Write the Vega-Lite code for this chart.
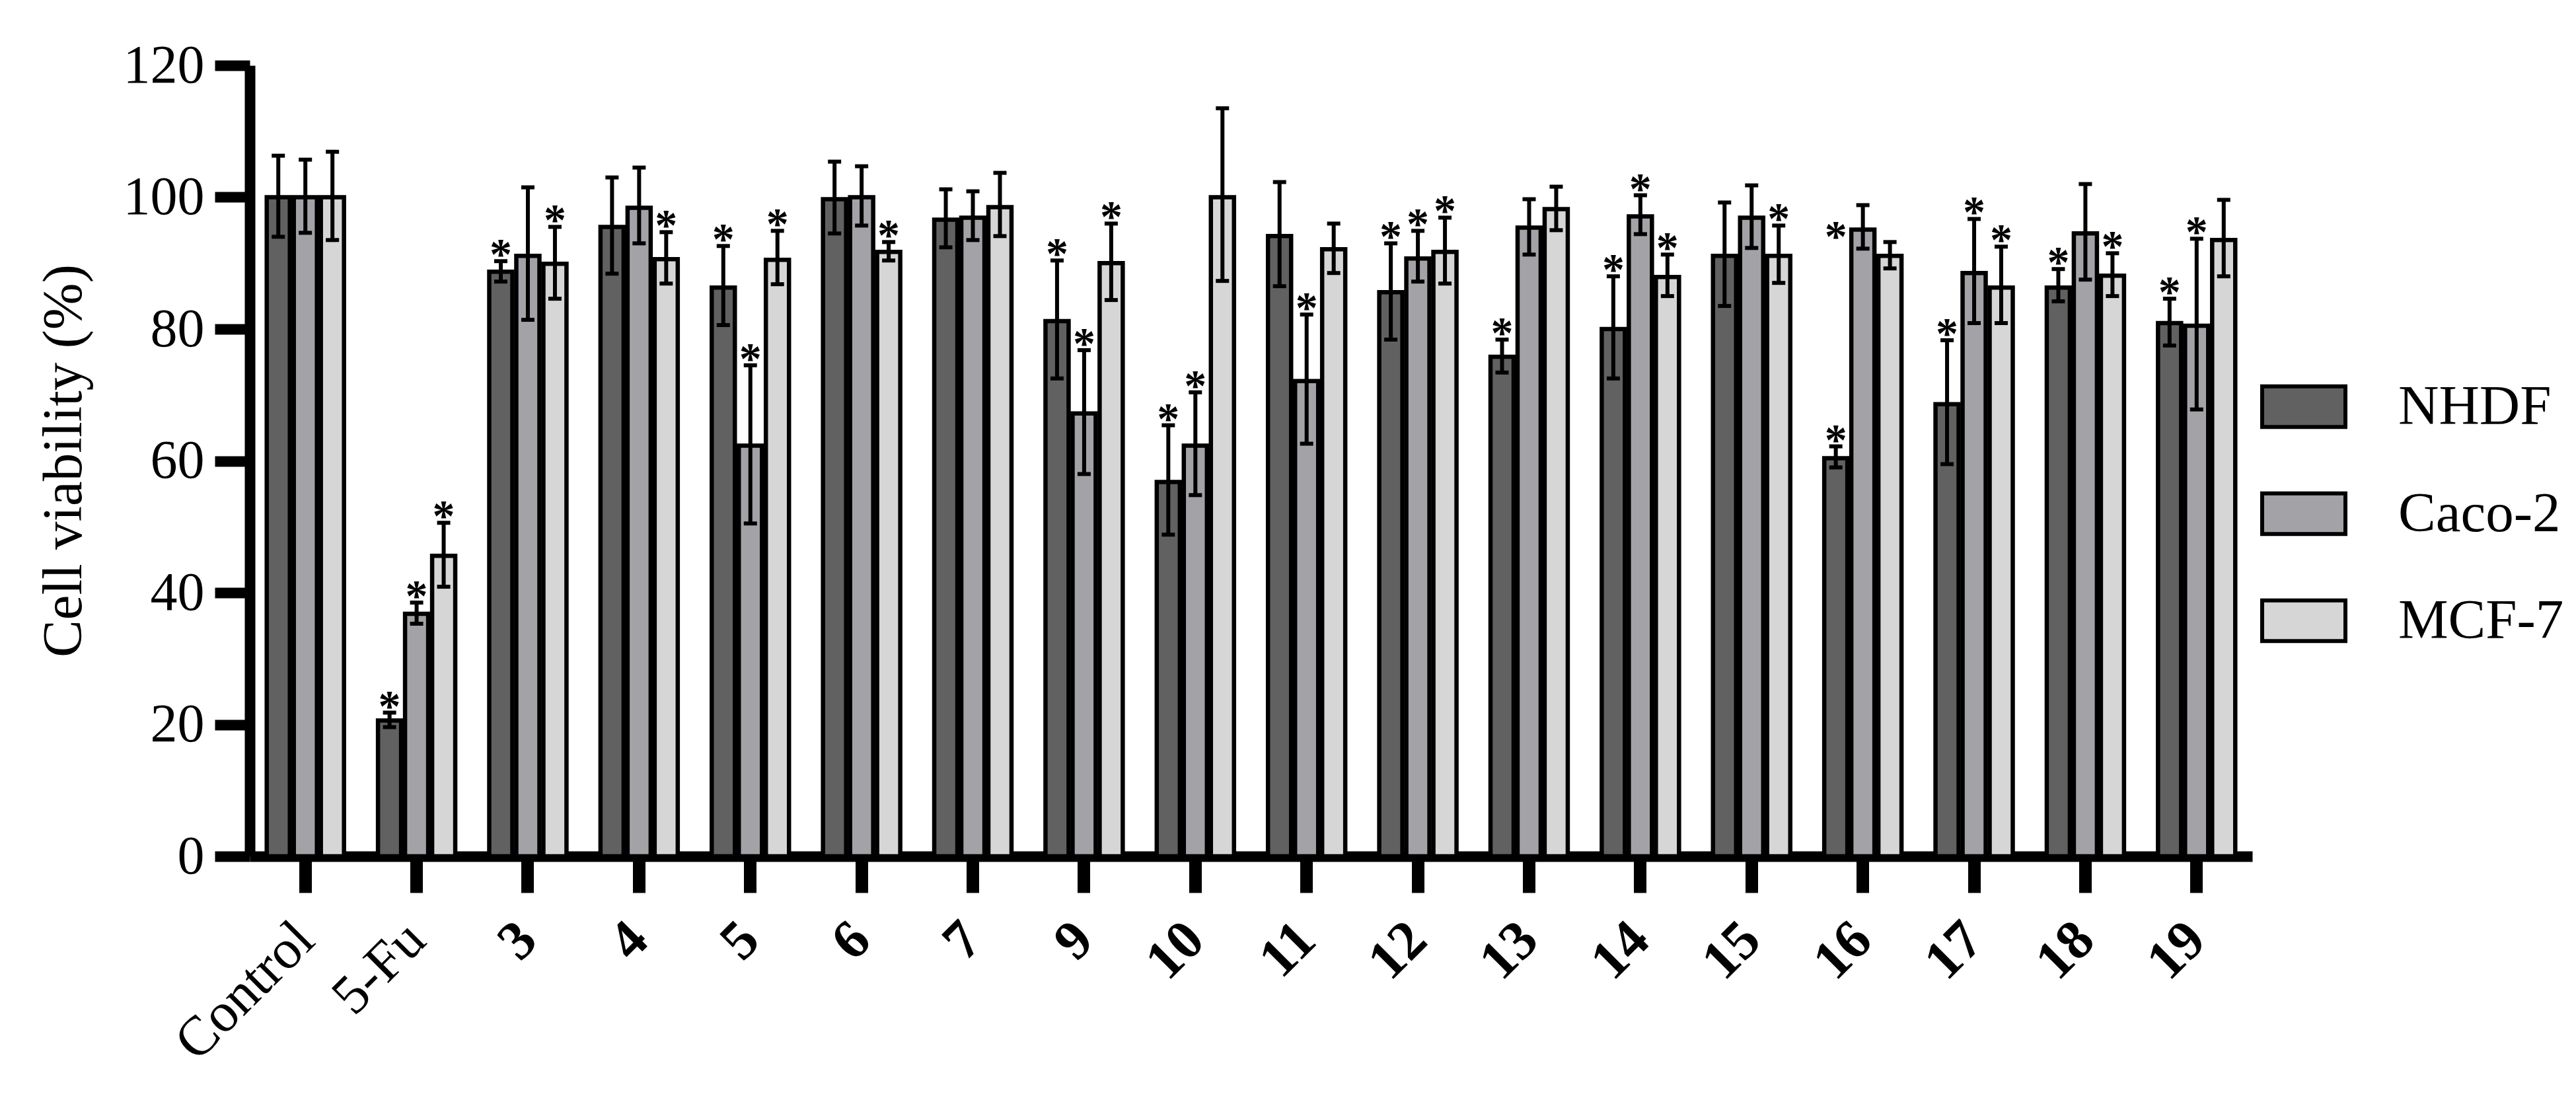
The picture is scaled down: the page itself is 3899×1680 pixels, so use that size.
{
  "$schema": "https://vega.github.io/schema/vega-lite/v6.json",
  "width": 3031,
  "height": 1197,
  "autosize": {"type": "none"},
  "padding": {"left": 378, "top": 99, "right": 490, "bottom": 384},
  "background": "white",
  "config": {
    "view": {"stroke": null},
    "font": "Liberation Serif",
    "legend": {"padding": 0, "offset": 0}
  },
  "datasets": {
    "bars": [
      {"cmpd": "Control", "cell": "NHDF", "mean": 100, "lo": 94, "hi": 106.3},
      {"cmpd": "Control", "cell": "Caco-2", "mean": 100, "lo": 94.6, "hi": 105.7},
      {"cmpd": "Control", "cell": "MCF-7", "mean": 100, "lo": 93.5, "hi": 106.9},
      {"cmpd": "5-Fu", "cell": "NHDF", "mean": 20.6, "lo": 19.6, "hi": 21.8},
      {"cmpd": "5-Fu", "cell": "Caco-2", "mean": 36.8, "lo": 35.3, "hi": 38.5},
      {"cmpd": "5-Fu", "cell": "MCF-7", "mean": 45.6, "lo": 40.9, "hi": 50.6},
      {"cmpd": "3", "cell": "NHDF", "mean": 88.7, "lo": 87.2, "hi": 90.3},
      {"cmpd": "3", "cell": "Caco-2", "mean": 91.1, "lo": 81.4, "hi": 101.5},
      {"cmpd": "3", "cell": "MCF-7", "mean": 89.9, "lo": 84.6, "hi": 95.5},
      {"cmpd": "4", "cell": "NHDF", "mean": 95.5, "lo": 88.4, "hi": 103},
      {"cmpd": "4", "cell": "Caco-2", "mean": 98.4, "lo": 93, "hi": 104.5},
      {"cmpd": "4", "cell": "MCF-7", "mean": 90.6, "lo": 86.9, "hi": 94.7},
      {"cmpd": "5", "cell": "NHDF", "mean": 86.3, "lo": 80.6, "hi": 92.6},
      {"cmpd": "5", "cell": "Caco-2", "mean": 62.3, "lo": 50.5, "hi": 74.5},
      {"cmpd": "5", "cell": "MCF-7", "mean": 90.5, "lo": 86.8, "hi": 94.9},
      {"cmpd": "6", "cell": "NHDF", "mean": 99.7, "lo": 94.5, "hi": 105.4},
      {"cmpd": "6", "cell": "Caco-2", "mean": 100, "lo": 95.7, "hi": 104.7},
      {"cmpd": "6", "cell": "MCF-7", "mean": 91.7, "lo": 90.4, "hi": 93.2},
      {"cmpd": "7", "cell": "NHDF", "mean": 96.6, "lo": 92.4, "hi": 101.2},
      {"cmpd": "7", "cell": "Caco-2", "mean": 96.9, "lo": 93.5, "hi": 100.9},
      {"cmpd": "7", "cell": "MCF-7", "mean": 98.5, "lo": 94.1, "hi": 103.7},
      {"cmpd": "9", "cell": "NHDF", "mean": 81.2, "lo": 72.5, "hi": 90.4},
      {"cmpd": "9", "cell": "Caco-2", "mean": 67.2, "lo": 58, "hi": 76.8},
      {"cmpd": "9", "cell": "MCF-7", "mean": 90, "lo": 84.4, "hi": 96},
      {"cmpd": "10", "cell": "NHDF", "mean": 56.8, "lo": 48.8, "hi": 65.4},
      {"cmpd": "10", "cell": "Caco-2", "mean": 62.3, "lo": 54.8, "hi": 70.4},
      {"cmpd": "10", "cell": "MCF-7", "mean": 100, "lo": 87.3, "hi": 113.5},
      {"cmpd": "11", "cell": "NHDF", "mean": 94.1, "lo": 86.5, "hi": 102.3},
      {"cmpd": "11", "cell": "Caco-2", "mean": 72.1, "lo": 62.6, "hi": 82.2},
      {"cmpd": "11", "cell": "MCF-7", "mean": 92.1, "lo": 88.5, "hi": 96},
      {"cmpd": "12", "cell": "NHDF", "mean": 85.6, "lo": 78.4, "hi": 93},
      {"cmpd": "12", "cell": "Caco-2", "mean": 90.7, "lo": 87.2, "hi": 94.9},
      {"cmpd": "12", "cell": "MCF-7", "mean": 91.7, "lo": 86.9, "hi": 96.9},
      {"cmpd": "13", "cell": "NHDF", "mean": 75.8, "lo": 73.4, "hi": 78.4},
      {"cmpd": "13", "cell": "Caco-2", "mean": 95.4, "lo": 91.3, "hi": 99.7},
      {"cmpd": "13", "cell": "MCF-7", "mean": 98.2, "lo": 95, "hi": 101.6},
      {"cmpd": "14", "cell": "NHDF", "mean": 80, "lo": 72.5, "hi": 88},
      {"cmpd": "14", "cell": "Caco-2", "mean": 97.1, "lo": 94.4, "hi": 100.3},
      {"cmpd": "14", "cell": "MCF-7", "mean": 87.9, "lo": 85, "hi": 91.3},
      {"cmpd": "15", "cell": "NHDF", "mean": 91.1, "lo": 83.5, "hi": 99.2},
      {"cmpd": "15", "cell": "Caco-2", "mean": 96.9, "lo": 92.3, "hi": 101.8},
      {"cmpd": "15", "cell": "MCF-7", "mean": 91.1, "lo": 87, "hi": 95.7},
      {"cmpd": "16", "cell": "NHDF", "mean": 60.4, "lo": 59, "hi": 62.2},
      {"cmpd": "16", "cell": "Caco-2", "mean": 95.1, "lo": 92.2, "hi": 98.8},
      {"cmpd": "16", "cell": "MCF-7", "mean": 91.1, "lo": 89.2, "hi": 93.2},
      {"cmpd": "17", "cell": "NHDF", "mean": 68.6, "lo": 59.5, "hi": 78.3},
      {"cmpd": "17", "cell": "Caco-2", "mean": 88.5, "lo": 80.9, "hi": 96.7},
      {"cmpd": "17", "cell": "MCF-7", "mean": 86.3, "lo": 80.9, "hi": 92.5},
      {"cmpd": "18", "cell": "NHDF", "mean": 86.3, "lo": 84.2, "hi": 89.1},
      {"cmpd": "18", "cell": "Caco-2", "mean": 94.5, "lo": 87.5, "hi": 102},
      {"cmpd": "18", "cell": "MCF-7", "mean": 88.1, "lo": 85, "hi": 91.5},
      {"cmpd": "19", "cell": "NHDF", "mean": 80.9, "lo": 77.5, "hi": 84.6},
      {"cmpd": "19", "cell": "Caco-2", "mean": 80.5, "lo": 67.8, "hi": 93.7},
      {"cmpd": "19", "cell": "MCF-7", "mean": 93.5, "lo": 88, "hi": 99.6}
    ],
    "stars": [
      {"cmpd": "5-Fu", "cell": "NHDF", "y": 21.8},
      {"cmpd": "5-Fu", "cell": "Caco-2", "y": 38.5},
      {"cmpd": "5-Fu", "cell": "MCF-7", "y": 50.6},
      {"cmpd": "3", "cell": "NHDF", "y": 90.3},
      {"cmpd": "3", "cell": "MCF-7", "y": 95.5},
      {"cmpd": "4", "cell": "MCF-7", "y": 94.7},
      {"cmpd": "5", "cell": "NHDF", "y": 92.6},
      {"cmpd": "5", "cell": "Caco-2", "y": 74.5},
      {"cmpd": "5", "cell": "MCF-7", "y": 94.9},
      {"cmpd": "6", "cell": "MCF-7", "y": 93.2},
      {"cmpd": "9", "cell": "NHDF", "y": 90.4},
      {"cmpd": "9", "cell": "Caco-2", "y": 76.8},
      {"cmpd": "9", "cell": "MCF-7", "y": 96},
      {"cmpd": "10", "cell": "NHDF", "y": 65.4},
      {"cmpd": "10", "cell": "Caco-2", "y": 70.4},
      {"cmpd": "11", "cell": "Caco-2", "y": 82.2},
      {"cmpd": "12", "cell": "NHDF", "y": 93},
      {"cmpd": "12", "cell": "Caco-2", "y": 94.9},
      {"cmpd": "12", "cell": "MCF-7", "y": 96.9},
      {"cmpd": "13", "cell": "NHDF", "y": 78.4},
      {"cmpd": "14", "cell": "NHDF", "y": 88},
      {"cmpd": "14", "cell": "Caco-2", "y": 100.3},
      {"cmpd": "14", "cell": "MCF-7", "y": 91.3},
      {"cmpd": "15", "cell": "MCF-7", "y": 95.7},
      {"cmpd": "16", "cell": "NHDF", "y": 93},
      {"cmpd": "16", "cell": "NHDF", "y": 62.2},
      {"cmpd": "17", "cell": "NHDF", "y": 78.3},
      {"cmpd": "17", "cell": "Caco-2", "y": 96.7},
      {"cmpd": "17", "cell": "MCF-7", "y": 92.5},
      {"cmpd": "18", "cell": "NHDF", "y": 89.1},
      {"cmpd": "18", "cell": "MCF-7", "y": 91.5},
      {"cmpd": "19", "cell": "NHDF", "y": 84.6},
      {"cmpd": "19", "cell": "Caco-2", "y": 93.7}
    ]
  },
  "data": {"name": "bars"},
  "encoding": {
    "x": {
      "field": "cmpd",
      "type": "nominal",
      "scale": {
        "domain": ["Control", "5-Fu", "3", "4", "5", "6", "7", "9", "10", "11", "12", "13", "14", "15", "16", "17", "18", "19"],
        "paddingInner": 0.27,
        "paddingOuter": 0.135
      },
      "axis": {
        "title": null,
        "domainColor": "black",
        "domainWidth": 16,
        "tickColor": "black",
        "tickWidth": 19,
        "tickSize": 55,
        "labelAngle": -45,
        "labelAlign": "right",
        "labelBaseline": "middle",
        "labelPadding": 58,
        "labelLimit": 0,
        "labelFontSize": 84,
        "labelFont": "Liberation Serif",
        "labelColor": "black",
        "labelFontWeight": {"condition": {"test": "datum.value === 'Control' || datum.value === '5-Fu'", "value": "normal"}, "value": "bold"}
      }
    },
    "xOffset": {
      "field": "cell",
      "type": "nominal",
      "scale": {"domain": ["NHDF", "Caco-2", "MCF-7"], "paddingInner": 0.146, "paddingOuter": 0.073}
    }
  },
  "layer": [
    {
      "mark": {"type": "bar", "stroke": "black", "strokeWidth": 6.5},
      "encoding": {
        "y": {
          "field": "mean",
          "type": "quantitative",
          "scale": {"domain": [0, 120], "nice": false, "zero": true},
          "axis": {
            "title": "Cell viability (%)",
            "values": [0, 20, 40, 60, 80, 100, 120],
            "grid": false,
            "domainColor": "black",
            "domainWidth": 16,
            "tickColor": "black",
            "tickWidth": 16,
            "tickSize": 53,
            "labelPadding": 16,
            "labelLimit": 0,
            "labelFontSize": 82,
            "labelFont": "Liberation Serif",
            "labelColor": "black",
            "titleFont": "Liberation Serif",
            "titleFontSize": 85,
            "titleFontWeight": "normal",
            "titleColor": "black",
            "titleAngle": 270,
            "titleAlign": "center",
            "titleBaseline": "alphabetic",
            "titleX": -256,
            "titleY": 598
          }
        },
        "color": {
          "field": "cell",
          "type": "nominal",
          "scale": {"domain": ["NHDF", "Caco-2", "MCF-7"], "range": ["#616161", "#a3a3a7", "#d6d6d6"]},
          "legend": {
            "title": null,
            "orient": "none",
            "legendX": 3035,
            "legendY": 474,
            "symbolType": "M-1,-0.98H3V0.98H-1Z",
            "symbolSize": 3969,
            "symbolStrokeColor": "black",
            "symbolStrokeWidth": 6,
            "symbolOpacity": 1,
            "labelFont": "Liberation Serif",
            "labelFontSize": 85,
            "labelLimit": 0,
            "labelColor": "black",
            "labelOffset": 132,
            "rowPadding": 75
          }
        }
      }
    },
    {
      "mark": {"type": "rule", "color": "black", "strokeWidth": 6},
      "encoding": {
        "y": {"field": "lo", "type": "quantitative"},
        "y2": {"field": "hi"}
      }
    },
    {
      "mark": {"type": "tick", "color": "black", "thickness": 6, "size": 20, "opacity": 1},
      "encoding": {"y": {"field": "lo", "type": "quantitative"}}
    },
    {
      "mark": {"type": "tick", "color": "black", "thickness": 6, "size": 20, "opacity": 1},
      "encoding": {"y": {"field": "hi", "type": "quantitative"}}
    },
    {
      "data": {"name": "stars"},
      "mark": {"type": "text", "text": "*", "font": "Liberation Serif", "fontSize": 68, "fontWeight": "bold", "color": "black", "baseline": "alphabetic", "align": "center", "dy": 12},
      "encoding": {"y": {"field": "y", "type": "quantitative"}}
    }
  ]
}
